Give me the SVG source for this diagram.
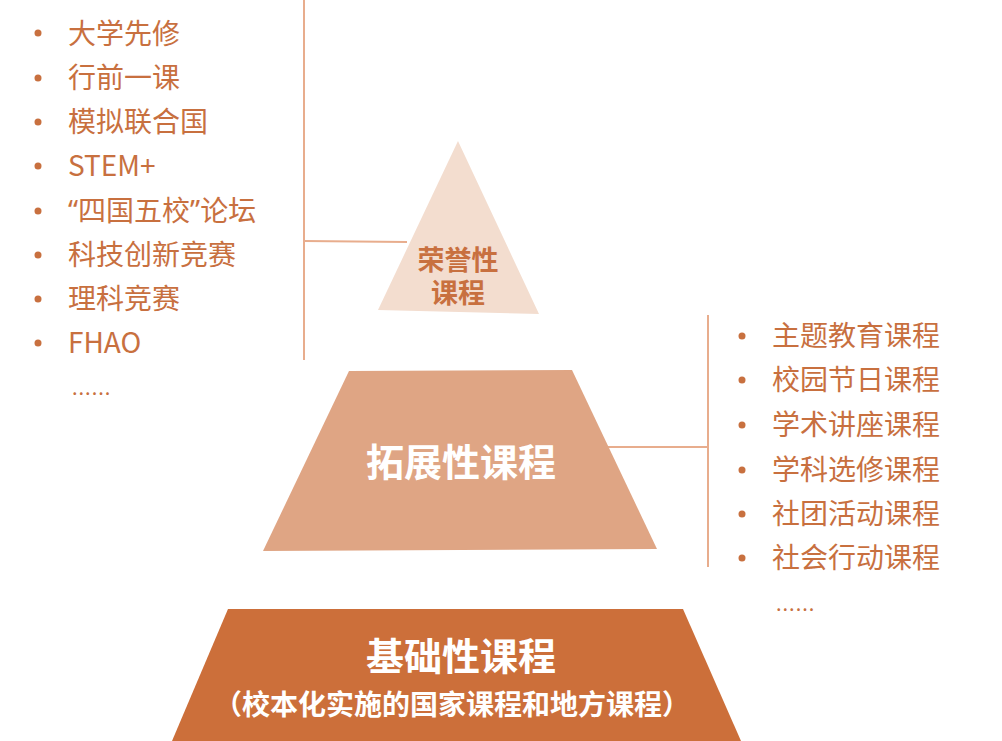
<svg xmlns="http://www.w3.org/2000/svg" width="1002" height="741" viewBox="0 0 1002 741">
<style>
.item{font-family:"Noto Sans CJK SC","Noto Sans",sans-serif;font-size:28px;fill:#C8703F;dominant-baseline:central}
.q{font-family:"Noto Sans",sans-serif}
.bul{fill:#C8703F}
.conn{stroke:#E8AD8D;stroke-width:2;fill:none}
.lbl{font-family:"Noto Sans CJK SC","Noto Sans",sans-serif;font-weight:bold;text-anchor:middle;dominant-baseline:central}
.dots{font-family:"Noto Sans CJK SC","Noto Sans",sans-serif;font-size:20px;fill:#C8703F;letter-spacing:1px}
</style>
<rect width="1002" height="741" fill="#FFFFFF"/>
<g id="connectors">
<line class="conn" x1="304" y1="0" x2="304" y2="360"/>
<line class="conn" x1="304" y1="241" x2="407" y2="242"/>
<line class="conn" x1="708" y1="315" x2="708" y2="567"/>
<line class="conn" x1="607" y1="447" x2="708" y2="447"/>
</g>
<g id="honor">
<polygon points="458,141 378,310 539,314" fill="#F3DDCF"/>
<text class="lbl" font-size="27" fill="#C8703F"><tspan x="458" y="258">荣誉性</tspan><tspan x="458" y="291">课程</tspan></text>
</g>
<g id="extended">
<polygon points="349,371 572,370 657,549 263,551" fill="#DFA584"/>
<text class="lbl" x="461" y="459" font-size="38" fill="#FFFFFF">拓展性课程</text>
</g>
<g id="basic">
<polygon points="228,609 683,609 741,741 172,741" fill="#CC6F3A"/>
<text class="lbl" x="461" y="653" font-size="38" fill="#FFFFFF">基础性课程</text>
<text class="lbl" x="452" y="703" font-size="28" fill="#FFFFFF">（校本化实施的国家课程和地方课程）</text>
</g>
<g id="left-list">
<g class="bul"><circle cx="38" cy="33" r="3.5"/><circle cx="38" cy="78" r="3.5"/><circle cx="38" cy="122" r="3.5"/><circle cx="38" cy="166" r="3.5"/><circle cx="38" cy="211" r="3.5"/><circle cx="38" cy="255" r="3.5"/><circle cx="38" cy="299" r="3.5"/><circle cx="38" cy="343" r="3.5"/></g>
<text class="item" x="68" y="32">大学先修</text>
<text class="item" x="68" y="76">行前一课</text>
<text class="item" x="68" y="120">模拟联合国</text>
<text class="item" x="68" y="164">STEM+</text>
<text class="item" x="68" y="209"><tspan class="q">“</tspan>四国五校<tspan class="q">”</tspan>论坛</text>
<text class="item" x="68" y="253">科技创新竞赛</text>
<text class="item" x="68" y="297">理科竞赛</text>
<text class="item" x="68" y="341">FHAO</text>
<text class="dots" x="72" y="395">......</text>
</g>
<g id="right-list">
<g class="bul"><circle cx="742" cy="336" r="3.5"/><circle cx="742" cy="380" r="3.5"/><circle cx="742" cy="425" r="3.5"/><circle cx="742" cy="470" r="3.5"/><circle cx="742" cy="514" r="3.5"/><circle cx="742" cy="558" r="3.5"/></g>
<text class="item" x="772" y="334">主题教育课程</text>
<text class="item" x="772" y="378">校园节日课程</text>
<text class="item" x="772" y="423">学术讲座课程</text>
<text class="item" x="772" y="468">学科选修课程</text>
<text class="item" x="772" y="512">社团活动课程</text>
<text class="item" x="772" y="556">社会行动课程</text>
<text class="dots" x="776" y="611">......</text>
</g>
</svg>
